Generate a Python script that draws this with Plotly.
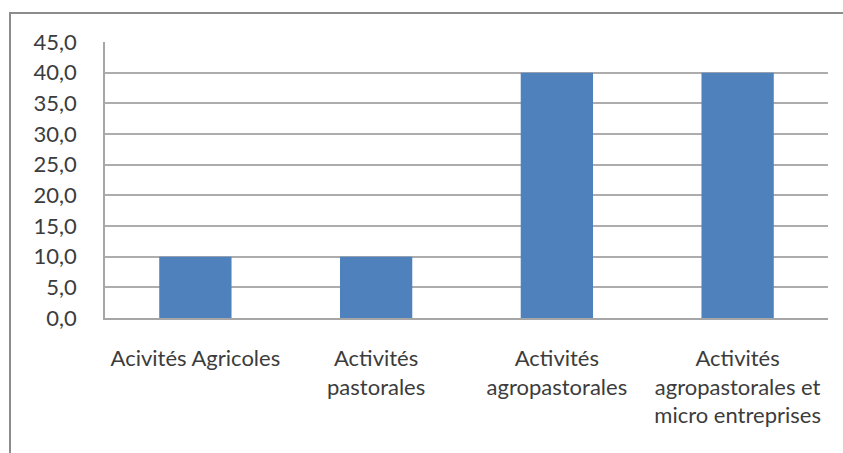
import plotly.graph_objects as go

# Data
categories = [
    "Acivités Agricoles",
    "Activités<br>pastorales",
    "Activités<br>agropastorales",
    "Activités<br>agropastorales et<br>micro entreprises",
]
values = [10, 10, 40, 40]
y_ticks = [0, 5, 10, 15, 20, 25, 30, 35, 40, 45]

W, H = 843, 453
L, R, T, B = 105, 15, 42, 135
pw, ph = W - L - R, H - T - B

fig = go.Figure(
    go.Bar(
        x=categories,
        y=values,
        marker=dict(color="#4F81BD", line=dict(width=0)),
        width=0.4,
    )
)

# Chart-area frame (left and top edges visible, rest runs off the page)
def px_x(px):
    return (px - L) / pw

def px_y(py):
    return (H - B - py) / ph

fig.add_shape(
    type="rect", xref="paper", yref="paper",
    x0=px_x(10), x1=px_x(860), y0=px_y(470), y1=px_y(13),
    line=dict(color="#8C8C8C", width=2), fillcolor="rgba(0,0,0,0)",
    layer="below",
)

fig.update_layout(
    width=W, height=H,
    margin=dict(l=L, r=R, t=T, b=B, pad=0),
    paper_bgcolor="white", plot_bgcolor="white",
    separators=", ",
    showlegend=False,
    font=dict(family="Lato, Open Sans, sans-serif", size=22, color="#3C3C3C"),
    bargap=0.6,
)
fig.update_xaxes(
    showgrid=False, showline=True, linecolor="#A6A6A6", linewidth=1.5,
    ticks="", tickfont=dict(size=22), tickangle=0,
    ticklabelstandoff=20,
)
fig.update_yaxes(
    range=[0, 45], tickvals=y_ticks, tickformat=".1f",
    showgrid=True, gridcolor="#ADADAD", gridwidth=1.5,
    showline=True, linecolor="#A6A6A6", linewidth=1.5,
    zeroline=False, ticks="", tickfont=dict(size=22),
    ticklabelstandoff=22,
)

fig.write_html("out.html")
